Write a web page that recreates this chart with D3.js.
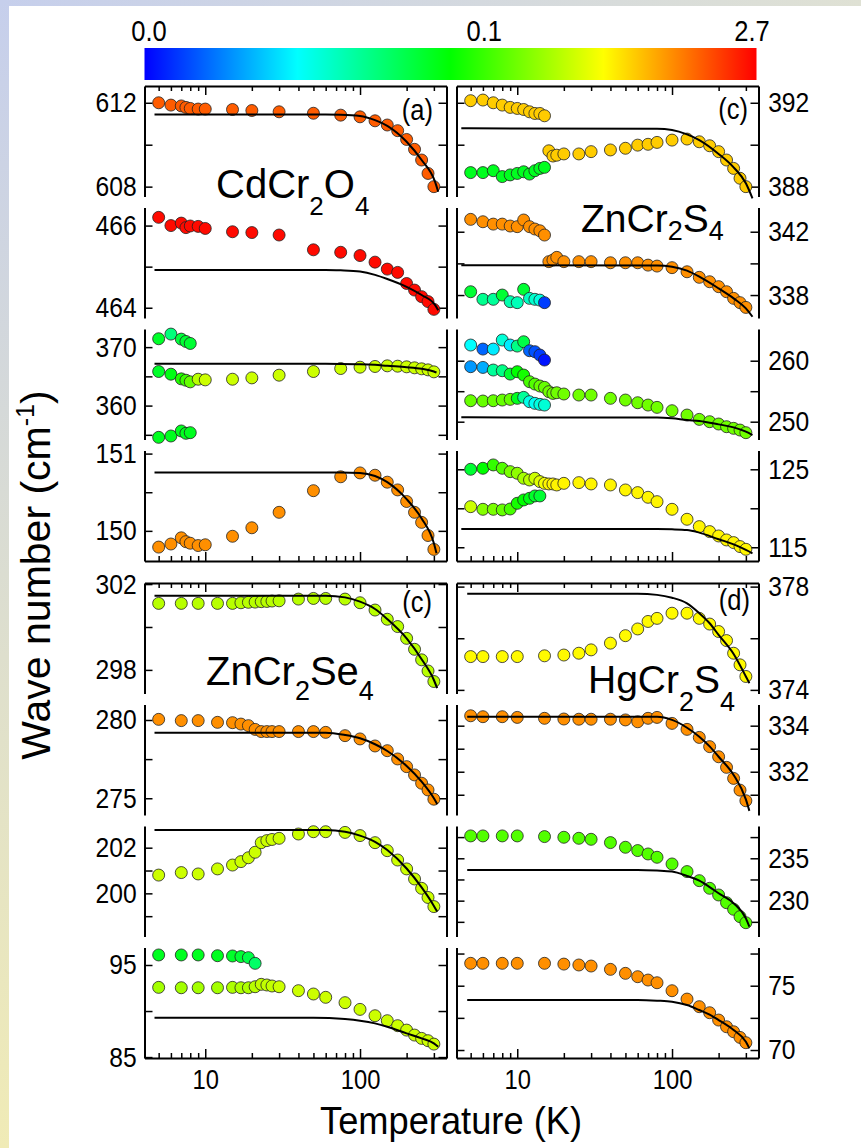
<!DOCTYPE html>
<html>
<head>
<meta charset="utf-8">
<script src="https://cdn.jsdelivr.net/npm/d3@7"></script>
<style>
  body { margin: 0; background: #fff; }
  svg { display: block; }
  text { font-family: "Liberation Sans", Arial, sans-serif; fill: #000; }
</style>
</head>
<body>
<script>
// ---- data ----
// temperature grids (K)
var tCd = [5, 6, 7, 7.5, 8, 9, 10, 15, 20, 30, 50, 75, 100, 125, 150, 175, 200, 225, 250, 275, 300];
var tCdSplit = [5, 6, 7, 7.5, 8];
var tZsLow = [5, 6, 7, 8, 9, 10, 11, 12, 13, 14, 15];
var tZsHigh = [16, 17, 18, 20, 25, 30, 40, 50, 60, 70, 80, 100, 125, 150, 175, 200, 225, 250, 275, 300];
var tZsAll = tZsLow.concat(tZsHigh);
var tSe = [5, 7, 9, 12, 15, 17, 19, 21, 23, 25, 27, 30, 40, 50, 60, 80, 100, 125, 150, 175, 200, 225, 250, 275, 300];
var tSeSplit = [5, 7, 9, 12, 15, 17, 19, 21];
var tHg = [5, 6, 8, 10, 15, 20, 25, 30, 40, 50, 60, 70, 80, 100, 125, 150, 175, 200, 225, 250, 275, 300];

// CdCr2O4 (cm-1)
var cd611 = [612.0, 611.89, 611.85, 611.78, 611.73, 611.7, 611.7, 611.68, 611.63, 611.57, 611.5, 611.41, 611.33, 611.14, 610.94, 610.67, 610.25, 609.78, 609.27, 608.63, 608.0];
var cd465 = [466.2, 466.0, 466.06, 465.95, 465.99, 465.98, 465.93, 465.85, 465.83, 465.77, 465.41, 465.35, 465.27, 465.11, 464.94, 464.86, 464.59, 464.43, 464.27, 464.15, 463.96];
var cd371 = [371.43, 372.23, 371.37, 370.97, 370.63];
var cd366 = [365.83, 365.37, 364.57, 364.34, 364.06, 364.51, 364.4, 364.51, 364.74, 365.2, 365.83, 366.34, 366.57, 366.69, 366.8, 366.74, 366.63, 366.46, 366.29, 366.11, 365.77];
var cd355 = [354.57, 354.8, 355.66, 355.26, 355.37];
var cd150 = [149.79, 149.83, 149.91, 149.86, 149.84, 149.81, 149.82, 149.93, 150.04, 150.24, 150.52, 150.7, 150.75, 150.72, 150.63, 150.53, 150.38, 150.24, 150.11, 149.94, 149.76];

// ZnCr2S4
var zs392 = [392.1, 392.13, 392.0, 391.89, 391.78, 391.73, 391.68, 391.57, 391.49, 391.49, 391.38];
var zs388 = [388.67, 388.67, 388.76, 388.48, 388.56, 388.63, 388.71, 388.6, 388.76, 388.87, 388.92];
var zs390 = [389.71, 389.46, 389.5, 389.56, 389.56, 389.67, 389.75, 389.83, 389.98, 390.02, 390.11, 390.22, 390.27, 390.14, 389.95, 389.67, 389.27, 388.87, 388.4, 388.0];
var zs342 = [342.78, 342.63, 342.48, 342.48, 342.36, 342.32, 342.74, 342.32, 342.17, 342.06, 341.79];
var zs338 = [338.21, 337.73, 337.73, 338.0, 337.58, 337.52, 338.36, 337.79, 337.73, 337.68, 337.52];
var zs340 = [340.11, 340.21, 340.38, 340.11, 340.11, 340.11, 340.04, 340.04, 340.04, 339.89, 339.83, 339.73, 339.47, 339.12, 338.84, 338.53, 338.21, 337.79, 337.52, 337.22];
var zs262 = [262.57, 261.91, 261.91, 263.39, 262.57, 262.4, 263.11, 261.64, 261.48, 260.93, 260.11];
var zs255 = [259.02, 258.9, 258.47, 258.36, 257.81, 258.2, 257.65, 256.56, 256.17, 255.85, 255.63, 254.92, 254.64, 254.75, 254.54, 254.37, 254.37, 253.83, 253.55, 253.11, 252.73, 252.35, 251.8, 251.09, 250.38, 250.0, 249.62, 249.18, 248.91, 248.63, 248.2];
var zs253 = [253.44, 253.39, 253.44, 253.55, 253.66, 253.83, 253.99, 253.28, 253.01, 252.84, 252.73];
var zs125 = [125.0, 125.13, 125.56, 125.13, 124.7, 124.49, 123.85, 123.63, 123.85, 123.42, 123.2, 123.12, 123.12, 122.99, 123.2, 123.29, 123.12, 122.99, 122.35, 122.01, 121.41, 120.85, 119.87, 118.59, 117.65, 117.01, 116.45, 115.94, 115.6, 115.09, 114.74];
var zs120 = [120.21, 119.87, 119.87, 119.79, 119.91, 120.64, 121.07, 121.28, 121.58, 121.58];

// ZnCr2Se4
var se301 = [301.1, 301.1, 301.1, 301.1, 301.1, 301.13, 301.15, 301.16, 301.18, 301.19, 301.21, 301.22, 301.3, 301.33, 301.33, 301.3, 301.13, 300.79, 300.36, 300.02, 299.47, 298.96, 298.47, 297.95, 297.46];
var se279 = [280.04, 279.96, 279.96, 279.85, 279.83, 279.74, 279.64, 279.4, 279.26, 279.26, 279.26, 279.26, 279.26, 279.26, 279.21, 279.0, 278.79, 278.34, 278.04, 277.51, 277.02, 276.49, 275.96, 275.53, 274.94];
var se202 = [200.8, 200.91, 200.85, 201.07, 201.24, 201.39, 201.56, 201.8, 202.22, 202.31, 202.36, 202.41, 202.6, 202.7, 202.7, 202.67, 202.53, 202.22, 201.87, 201.46, 201.07, 200.63, 200.22, 199.82, 199.42];
var se96 = [96.09, 96.09, 96.09, 96.01, 95.98, 95.91, 95.8, 95.18];
var se92 = [92.57, 92.53, 92.53, 92.53, 92.57, 92.53, 92.53, 92.64, 92.9, 92.83, 92.72, 92.64, 92.21, 91.85, 91.49, 90.91, 90.18, 89.49, 88.95, 88.41, 87.93, 87.39, 87.03, 86.78, 86.41];

// HgCr2S4
var hg376 = [375.29, 375.29, 375.29, 375.29, 375.32, 375.35, 375.42, 375.55, 375.81, 376.1, 376.36, 376.65, 376.77, 376.97, 376.97, 376.77, 376.55, 376.26, 375.91, 375.42, 374.97, 374.52];
var hg334 = [334.43, 334.39, 334.39, 334.36, 334.32, 334.29, 334.28, 334.28, 334.28, 334.25, 334.17, 334.32, 334.36, 334.1, 333.84, 333.49, 333.09, 332.65, 332.19, 331.71, 331.2, 330.74];
var hg236 = [237.64, 237.64, 237.64, 237.64, 237.56, 237.48, 237.36, 237.24, 236.85, 236.3, 235.91, 235.51, 235.12, 234.33, 233.43, 232.36, 231.46, 230.67, 229.76, 228.98, 228.11, 227.4];
var hg75 = [76.74, 76.74, 76.74, 76.74, 76.74, 76.68, 76.61, 76.53, 76.27, 75.96, 75.7, 75.44, 75.23, 74.61, 73.96, 73.37, 72.9, 72.33, 71.81, 71.42, 70.98, 70.57];

// colour-bar position (0..1) of each series / point
var cCd366 = [0.46, 0.48, 0.53, 0.56, 0.6, 0.68, 0.7, 0.7, 0.7, 0.7, 0.7, 0.7, 0.7, 0.7, 0.7, 0.7, 0.7, 0.7, 0.7, 0.7, 0.7];
var cCd371 = [0.46, 0.38, 0.44, 0.45, 0.45];
var cZs338 = [0.45, 0.36, 0.35, 0.45, 0.33, 0.32, 0.45, 0.31, 0.3, 0.28, 0.06];
var cZs262 = [0.25, 0.1, 0.23, 0.29, 0.23, 0.37, 0.43, 0.1, 0.08, 0.06, 0.02];
var cZs255 = [0.15, 0.17, 0.35, 0.37, 0.45, 0.5, 0.52, 0.57, 0.58, 0.6, 0.6, 0.61, 0.61, 0.61, 0.61, 0.61, 0.61, 0.61, 0.61, 0.61, 0.61, 0.61, 0.61, 0.61, 0.61, 0.61, 0.61, 0.61, 0.61, 0.61, 0.61];
var cZs253 = [0.6, 0.6, 0.6, 0.6, 0.6, 0.47, 0.35, 0.27, 0.26, 0.28, 0.29];
var cZs125 = [0.45, 0.5, 0.55, 0.58, 0.62, 0.64, 0.66, 0.68, 0.7, 0.72, 0.74, 0.76, 0.76, 0.76, 0.76, 0.76, 0.76, 0.76, 0.76, 0.76, 0.76, 0.76, 0.76, 0.76, 0.76, 0.76, 0.76, 0.76, 0.76, 0.76, 0.76];
var cZs120 = [0.7, 0.63, 0.62, 0.6, 0.57, 0.52, 0.5, 0.48, 0.46, 0.45];
var cSe96 = [0.47, 0.47, 0.47, 0.47, 0.46, 0.45, 0.43, 0.4];
var cSe92 = [0.66, 0.66, 0.66, 0.66, 0.67, 0.67, 0.67, 0.68, 0.69, 0.69, 0.69, 0.7, 0.7, 0.7, 0.7, 0.7, 0.7, 0.7, 0.7, 0.7, 0.7, 0.7, 0.7, 0.7, 0.7];

// fitted curves, read as [T, value] nodes
var fitTCd = [4.7, 60, 75, 100, 125, 150, 200, 250, 305, 320];
var fitCd611 = [611.44, 611.44, 611.43, 611.37, 611.17, 610.9, 610.14, 609.27, 608.24, 607.76];
var fitCd465 = [464.92, 464.92, 464.91, 464.88, 464.8, 464.7, 464.51, 464.31, 464.07, 463.94];
var fitTCd2 = [4.7, 60, 75, 100, 125, 150, 200, 250, 300, 312];
var fitCd366 = [367.14, 367.14, 367.13, 367.08, 366.97, 366.8, 366.57, 366.29, 365.83, 365.66];
var fitCd150 = [150.755, 150.755, 150.755, 150.75, 150.71, 150.63, 150.41, 150.16, 149.84, 149.71];
var fitTZs = [4.35, 80, 100, 125, 150, 200, 250, 300, 331];
var fitZs390 = [390.78, 390.76, 390.7, 390.49, 390.22, 389.56, 388.92, 388.16, 387.44];
var fitZs340 = [339.89, 339.87, 339.79, 339.54, 339.16, 338.42, 337.79, 337.16, 336.63];
var fitZs251 = [250.71, 250.69, 250.55, 250.27, 250.11, 249.56, 249.07, 248.36, 247.81];
var fitZs117 = [117.35, 117.33, 117.3, 117.22, 116.88, 116.03, 115.38, 114.66, 114.23];
var fitTSe = [4.7, 60, 80, 100, 125, 150, 200, 250, 300, 315];
var fitSe301 = [301.46, 301.46, 301.38, 301.18, 300.84, 300.37, 299.47, 298.5, 297.53, 297.15];
var fitSe279 = [279.19, 279.19, 279.04, 278.83, 278.45, 278.02, 277.06, 276.06, 275.0, 274.64];
var fitSe202 = [202.77, 202.77, 202.7, 202.53, 202.26, 201.9, 201.09, 200.26, 199.45, 199.2];
var fitTSe2 = [4.7, 50, 80, 100, 125, 150, 200, 250, 300, 320];
var fitSe89 = [89.28, 89.28, 89.13, 88.95, 88.66, 88.3, 87.57, 87.03, 86.49, 86.12];
var fitTHg = [4.75, 60, 80, 100, 125, 150, 175, 200, 250, 300, 316];
var fitHg376 = [377.72, 377.72, 377.68, 377.57, 377.35, 376.97, 376.58, 376.13, 375.39, 374.52, 374.26];
var fitHg334 = [334.39, 334.39, 334.39, 334.25, 333.91, 333.52, 333.1, 332.65, 331.86, 330.8, 330.3];
var fitHg236 = [233.62, 233.62, 233.55, 233.43, 232.91, 232.36, 231.6, 230.87, 229.69, 227.91, 226.93];
var fitHg75 = [73.89, 73.89, 73.84, 73.76, 73.5, 73.11, 72.75, 72.33, 71.55, 70.65, 70.13];

// axes
var tempDomain = [4.05, 362];
var majorT = [10, 100];
var minorT = [5, 6, 7, 8, 9, 20, 30, 40, 50, 60, 70, 80, 90, 200, 300];
var barTicks = ["0.0", "0.1", "2.7"];
var barTickPos = [0, 0.556, 1];

var panels = [
  {g: 0, col: 0, row: 0, y: [607.53, 612.8], ticks: [608, 610, 612], labels: [608, 612],
   series: [{t: tCd, v: cd611, c: 0.91}], fit: [fitTCd, fitCd611]},
  {g: 0, col: 0, row: 1, y: [463.75, 466.44], ticks: [464, 465, 466], labels: [464, 466],
   series: [{t: tCd, v: cd465, c: 0.99}], fit: [fitTCd, fitCd465]},
  {g: 0, col: 0, row: 2, y: [354.2, 373.1], ticks: [355, 360, 365, 370], labels: [360, 370],
   series: [{t: tCdSplit, v: cd371, c: cCd371}, {t: tCd, v: cd366, c: cCd366}, {t: tCdSplit, v: cd355, c: 0.47}], fit: [fitTCd2, fitCd366]},
  {g: 0, col: 0, row: 3, y: [149.61, 151.04], ticks: [150, 150.5, 151], labels: [150, 151],
   series: [{t: tCd, v: cd150, c: 0.86}], fit: [fitTCd2, fitCd150]},
  {g: 0, col: 1, row: 0, y: [387.53, 392.8], ticks: [388, 390, 392], labels: [388, 392],
   series: [{t: tZsLow, v: zs392, c: 0.8}, {t: tZsLow, v: zs388, c: 0.47}, {t: tZsHigh, v: zs390, c: 0.8}], fit: [fitTZs, fitZs390]},
  {g: 0, col: 1, row: 1, y: [336.55, 343.53], ticks: [338, 340, 342], labels: [338, 342],
   series: [{t: tZsLow, v: zs342, c: 0.86}, {t: tZsLow, v: zs338, c: cZs338}, {t: tZsHigh, v: zs340, c: 0.86}], fit: [fitTZs, fitZs340]},
  {g: 0, col: 1, row: 2, y: [247.08, 265.2], ticks: [250, 255, 260], labels: [250, 260],
   series: [{t: tZsLow, v: zs253, c: cZs253}, {t: tZsAll, v: zs255, c: cZs255}, {t: tZsLow, v: zs262, c: cZs262}], fit: [fitTZs, fitZs251]},
  {g: 0, col: 1, row: 3, y: [113.24, 127.41], ticks: [115, 120, 125], labels: [115, 125],
   series: [{t: tZsLow.slice(0, 10), v: zs120, c: cZs120}, {t: tZsAll, v: zs125, c: cZs125}], fit: [fitTZs, fitZs117]},
  {g: 1, col: 0, row: 0, y: [296.9, 302.05], ticks: [298, 300, 302], labels: [298, 302],
   series: [{t: tSe, v: se301, c: 0.68}], fit: [fitTSe, fitSe301]},
  {g: 1, col: 0, row: 1, y: [273.93, 280.99], ticks: [275, 277.5, 280], labels: [275, 280],
   series: [{t: tSe, v: se279, c: 0.86}], fit: [fitTSe, fitSe279]},
  {g: 1, col: 0, row: 2, y: [198.11, 202.95], ticks: [199, 200, 201, 202], labels: [200, 202],
   series: [{t: tSe, v: se202, c: 0.7}], fit: [fitTSe, fitSe202]},
  {g: 1, col: 0, row: 3, y: [84.9, 96.9], ticks: [85, 90, 95], labels: [85, 95],
   series: [{t: tSeSplit, v: se96, c: cSe96}, {t: tSe, v: se92, c: cSe92}], fit: [fitTSe2, fitSe89]},
  {g: 1, col: 1, row: 0, y: [373.86, 378.14], ticks: [374, 376, 378], labels: [374, 378],
   series: [{t: tHg, v: hg376, c: 0.755}], fit: [fitTHg, fitHg376]},
  {g: 1, col: 1, row: 1, y: [330.12, 334.92], ticks: [331, 332, 333, 334], labels: [332, 334],
   series: [{t: tHg, v: hg334, c: 0.86}], fit: [fitTHg, fitHg334]},
  {g: 1, col: 1, row: 2, y: [225.77, 238.81], ticks: [227.5, 230, 232.5, 235, 237.5], labels: [230, 235],
   series: [{t: tHg, v: hg236, c: 0.58}], fit: [fitTHg, fitHg236]},
  {g: 1, col: 1, row: 3, y: [69.38, 77.97], ticks: [70, 72.5, 75, 77.5], labels: [70, 75],
   series: [{t: tHg, v: hg75, c: 0.86}], fit: [fitTHg, fitHg75]}
];

var compounds = [
  {parts: ["CdCr", "2", "O", "4"], x: 216, y: 198, size: 40, sub: 26, dy: 17},
  {parts: ["ZnCr", "2", "S", "4"], x: 581, y: 232, size: 39, sub: 27, dy: 8},
  {parts: ["ZnCr", "2", "Se", "4"], x: 206, y: 685, size: 40, sub: 27, dy: 15},
  {parts: ["HgCr", "2", "S", "4"], x: 588, y: 693, size: 39, sub: 27, dy: 18}
];
var tags = [
  {text: "(a)", x: 433, y: 120}, {text: "(c)", x: 748, y: 119},
  {text: "(c)", x: 432, y: 612}, {text: "(d)", x: 750, y: 610}
];

// ---- layout ----
var W = 861, H = 1148;
var colX = [[144.5, 446.5], [456.5, 758.5]];
var groupTop = [86, 583];
var panelH = 110.5, panelGap = 11;
var groupH = 4 * panelH + 3 * panelGap;
var squeeze = "scale(0.88,1)";   // the figure's lettering is tall and narrow

var svg = d3.select("body").append("svg")
  .attr("width", W)
  .attr("height", H);

var defs = svg.append("defs");
var edgeL = defs.append("linearGradient").attr("id", "edgeL")
  .attr("x1", 0).attr("y1", 0).attr("x2", 0).attr("y2", 1);
edgeL.append("stop").attr("offset", 0).attr("stop-color", "#c6cfec");
edgeL.append("stop").attr("offset", 1).attr("stop-color", "#f0ebb6");
var edgeT = defs.append("linearGradient").attr("id", "edgeT")
  .attr("x1", 0).attr("y1", 0).attr("x2", 1).attr("y2", 0);
edgeT.append("stop").attr("offset", 0).attr("stop-color", "#c6cfec");
edgeT.append("stop").attr("offset", 1).attr("stop-color", "#dfe1d4");

svg.append("rect").attr("width", W).attr("height", 6).attr("fill", "url(#edgeT)");
svg.append("rect").attr("width", 9).attr("height", H).attr("fill", "url(#edgeL)");

// colour bar
var colorStops = ["#0000ff", "#00ffff", "#00ff00", "#ffff00", "#ff0000"];
var colour = d3.scaleLinear().domain([0, 0.25, 0.5, 0.75, 1]).range(colorStops);
var barGrad = defs.append("linearGradient").attr("id", "bar");
colorStops.forEach(function(c, i) {
  barGrad.append("stop").attr("offset", i / (colorStops.length - 1)).attr("stop-color", c);
});
svg.append("rect")
  .attr("x", 144.5).attr("y", 48)
  .attr("width", 612).attr("height", 32)
  .attr("fill", "url(#bar)");
var barX = d3.scaleLinear().domain([0, 1]).range([149, 752]);
svg.selectAll(".barlab")
  .data(barTicks)
  .enter().append("text")
  .attr("class", "barlab")
  .attr("transform", function(d, i) { return "translate(" + barX(barTickPos[i]) + ",41) " + squeeze; })
  .attr("text-anchor", "middle")
  .attr("font-size", 29)
  .text(function(d) { return d; });

var xScales = colX.map(function(r) {
  return d3.scaleLog().domain(tempDomain).range(r);
});

function styleAxis(g, size) {
  g.attr("font-family", "Liberation Sans, Arial, sans-serif").attr("font-size", size);
  g.select(".domain").attr("stroke-width", 2);
  g.selectAll(".tick line").attr("stroke-width", 1.5);
  g.selectAll(".tick text").attr("fill", "#000").attr("transform", squeeze);
}

var line = d3.line().curve(d3.curveMonotoneX);

panels.forEach(function(p) {
  var x = xScales[p.col];
  var top = groupTop[p.g] + p.row * (panelH + panelGap);
  var y = d3.scaleLinear().domain(p.y).range([top + panelH, top]);
  var fmt = function(d) { return p.labels.indexOf(d) >= 0 ? d3.format("d")(d) : ""; };
  var none = function() { return ""; };

  var left = svg.append("g")
    .attr("transform", "translate(" + colX[p.col][0] + ",0)")
    .call(d3.axisLeft(y).tickValues(p.ticks).tickSizeInner(-8).tickSizeOuter(0)
      .tickPadding(9).tickFormat(p.col === 0 ? fmt : none));
  styleAxis(left, 28);

  var right = svg.append("g")
    .attr("transform", "translate(" + colX[p.col][1] + ",0)")
    .call(d3.axisRight(y).tickValues(p.ticks).tickSizeInner(-8).tickSizeOuter(0)
      .tickPadding(11).tickFormat(p.col === 1 ? fmt : none));
  styleAxis(right, 28);

  p.series.forEach(function(s) {
    var pts = s.t.map(function(t, i) {
      return {t: t, v: s.v[i], c: Array.isArray(s.c) ? s.c[i] : s.c};
    });
    svg.append("g").selectAll("circle")
      .data(pts)
      .enter().append("circle")
      .attr("cx", function(d) { return x(d.t); })
      .attr("cy", function(d) { return y(d.v); })
      .attr("r", 6)
      .attr("fill", function(d) { return colour(d.c); })
      .attr("stroke", "#222")
      .attr("stroke-width", 0.8);
  });

  var fitPts = p.fit[0].map(function(t, i) { return [x(t), y(p.fit[1][i])]; });
  svg.append("path")
    .attr("d", line(fitPts))
    .attr("fill", "none")
    .attr("stroke", "#000")
    .attr("stroke-width", 2);
});

// temperature axes on top and bottom of each group
[0, 1].forEach(function(g) {
  xScales.forEach(function(x, c) {
    var yTop = groupTop[g], yBot = groupTop[g] + groupH;
    var tMaj = svg.append("g").attr("transform", "translate(0," + yTop + ")")
      .call(d3.axisTop(x).tickValues(majorT).tickSizeInner(-9).tickSizeOuter(0).tickFormat(""));
    styleAxis(tMaj, 27);
    var tMin = svg.append("g").attr("transform", "translate(0," + yTop + ")")
      .call(d3.axisTop(x).tickValues(minorT).tickSizeInner(-5).tickSizeOuter(0).tickFormat(""));
    styleAxis(tMin, 27);
    tMin.select(".domain").remove();

    var bMaj = svg.append("g").attr("transform", "translate(0," + yBot + ")")
      .call(d3.axisBottom(x).tickValues(majorT).tickSizeInner(-9).tickSizeOuter(0)
        .tickPadding(12).tickFormat(g === 1 ? d3.format("d") : ""));
    styleAxis(bMaj, 27);
    var bMin = svg.append("g").attr("transform", "translate(0," + yBot + ")")
      .call(d3.axisBottom(x).tickValues(minorT).tickSizeInner(-5).tickSizeOuter(0).tickFormat(""));
    styleAxis(bMin, 27);
    bMin.select(".domain").remove();
  });
});

// compound names
compounds.forEach(function(c) {
  var t = svg.append("text").attr("x", c.x).attr("y", c.y).attr("font-size", c.size);
  c.parts.forEach(function(s, i) {
    var isSub = i % 2 === 1;
    t.append("tspan")
      .attr("dy", i === 0 ? 0 : (isSub ? c.dy : -c.dy))
      .attr("font-size", isSub ? c.sub : c.size)
      .text(s);
  });
});

svg.selectAll(".tag")
  .data(tags)
  .enter().append("text")
  .attr("class", "tag")
  .attr("transform", function(d) { return "translate(" + d.x + "," + d.y + ") " + squeeze; })
  .attr("text-anchor", "end")
  .attr("font-size", 29)
  .text(function(d) { return d.text; });

// axis titles
svg.append("text")
  .attr("transform", "translate(451,1134) scale(0.93,1)")
  .attr("text-anchor", "middle")
  .attr("font-size", 39)
  .text("Temperature (K)");

var yt = svg.append("text")
  .attr("transform", "translate(50,575) rotate(-90)")
  .attr("text-anchor", "middle")
  .attr("font-size", 41);
yt.append("tspan").text("Wave number (cm");
yt.append("tspan").attr("font-size", 25).attr("dy", -16).text("-1");
yt.append("tspan").attr("dy", 16).text(")");
</script>
</body>
</html>
